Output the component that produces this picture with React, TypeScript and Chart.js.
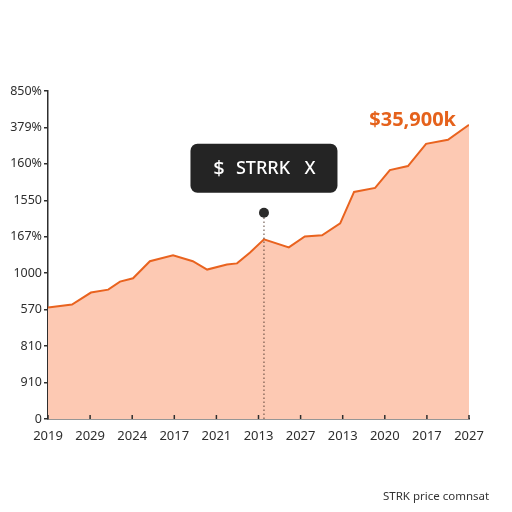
import React, { useEffect, useRef } from "react";
import { Chart, registerables } from "chart.js";

Chart.register(...registerables);

const xLabels = ["2019", "2029", "2024", "2017", "2021", "2013", "2027", "2013", "2020", "2017", "2027"];
const yLabels = ["0", "910", "810", "570", "1000", "167%", "1550", "160%", "379%", "850%"];
const priceX = [0, 0.57, 1.02, 1.43, 1.71, 2.02, 2.42, 2.97, 3.44, 3.78, 4.25, 4.49, 4.8, 5.13, 5.72, 6.1, 6.51, 6.94, 7.27, 7.77, 8.12, 8.55, 8.98, 9.5, 10];
const priceY = [3.06, 3.14, 3.47, 3.55, 3.77, 3.86, 4.33, 4.49, 4.33, 4.1, 4.24, 4.27, 4.57, 4.93, 4.71, 5.01, 5.04, 5.37, 6.23, 6.34, 6.83, 6.94, 7.55, 7.66, 8.07];
const markerX = 5.13;
const markerY = 5.66;
const tooltipParts = ["$", "STRRK", "X"];
const lastLabel = "$35,900k";
const caption = "STRK price comnsat";

const FONT = '"Noto Sans", "DejaVu Sans", sans-serif';
const AXIS = "#2e2e2e";

const overlay = {
  id: "overlay",
  afterDraw(chart: any) {
    const ctx = chart.ctx;
    const xs = chart.scales.x;
    const ys = chart.scales.y;
    const area = chart.chartArea;
    ctx.save();
    // inward x ticks
    ctx.strokeStyle = AXIS;
    ctx.lineWidth = 1.5;
    xLabels.forEach((_, i) => {
      const px = xs.getPixelForValue(i);
      ctx.beginPath();
      ctx.moveTo(px, area.bottom);
      ctx.lineTo(px, area.bottom - 4);
      ctx.stroke();
    });
    // tooltip box
    const mx = xs.getPixelForValue(markerX);
    const my = ys.getPixelForValue(markerY);
    const bw = 147;
    const bh = 49;
    const bx = mx - bw / 2;
    const by = my - 20 - bh;
    ctx.fillStyle = "#242424";
    ctx.beginPath();
    (ctx as any).roundRect(bx, by, bw, bh, 7);
    ctx.fill();
    ctx.fillStyle = "#ffffff";
    ctx.textAlign = "center";
    ctx.textBaseline = "middle";
    const cy = by + bh / 2 + 1;
    ctx.font = `500 20px ${FONT}`;
    ctx.fillText(tooltipParts[0], mx - 45, cy);
    ctx.font = `500 18px ${FONT}`;
    ctx.fillText(tooltipParts[1], mx - 1, cy);
    ctx.fillText(tooltipParts[2], mx + 46, cy);
    // last value label
    const lx = xs.getPixelForValue(priceX[priceX.length - 1]);
    const ly = ys.getPixelForValue(priceY[priceY.length - 1]);
    ctx.fillStyle = "#e5621c";
    ctx.font = `bold 20px ${FONT}`;
    ctx.textAlign = "right";
    ctx.fillText(lastLabel, lx - 13, ly - 5);
    // caption
    ctx.fillStyle = "#333333";
    ctx.font = `11.5px ${FONT}`;
    ctx.textAlign = "left";
    ctx.fillText(caption, 383, 497);
    ctx.restore();
  },
};

export default function App() {
  const ref = useRef<HTMLCanvasElement | null>(null);
  useEffect(() => {
    if (!ref.current) return;
    const chart = new Chart(ref.current, {
      type: "line",
      data: {
        datasets: [
          {
            data: [
              { x: markerX, y: 0 },
              { x: markerX, y: markerY },
            ],
            borderColor: "#5a4035",
            borderWidth: 1,
            borderDash: [1.5, 2.5],
            pointRadius: [0, 5],
            pointBackgroundColor: "#2b2b2b",
            pointBorderWidth: 0,
            fill: false,
            order: 0,
          },
          {
            data: priceX.map((x, i) => ({ x, y: priceY[i] })),
            borderColor: "#e9631f",
            borderWidth: 2,
            backgroundColor: "#fdc9b3",
            fill: "origin",
            pointRadius: 0,
            tension: 0,
            order: 1,
          },
        ],
      },
      options: {
        animation: false,
        responsive: false,
        devicePixelRatio: 1,
        layout: { padding: { top: 91, right: 43, left: 0, bottom: 0 } },
        plugins: { legend: { display: false }, tooltip: { enabled: false } },
        scales: {
          x: {
            type: "linear",
            min: 0,
            max: 10,
            afterBuildTicks: (s: any) => {
              s.ticks = xLabels.map((_, i) => ({ value: i }));
            },
            afterFit: (s: any) => {
              s.height = 93;
            },
            ticks: {
              callback: (v: any) => xLabels[v],
              font: { family: FONT, size: 13 },
              color: AXIS,
              padding: 1,
              maxRotation: 0,
              autoSkip: false,
            },
            grid: { display: false },
            border: { color: AXIS, width: 1.5 },
          },
          y: {
            type: "linear",
            min: 0,
            max: 9,
            afterBuildTicks: (s: any) => {
              s.ticks = yLabels.map((_, i) => ({ value: i }));
            },
            afterFit: (s: any) => {
              s.width = 48;
            },
            ticks: {
              callback: (v: any) => yLabels[v],
              font: { family: FONT, size: 12.5 },
              color: AXIS,
              padding: 2,
              autoSkip: false,
            },
            grid: { drawOnChartArea: false, tickLength: 4, color: AXIS, lineWidth: 1.5 },
            border: { color: AXIS, width: 1.5 },
          },
        },
      },
      plugins: [overlay],
    });
    return () => chart.destroy();
  }, []);
  return (
    <div style={{ position: "absolute", left: 0, top: 0, width: 512, height: 512, background: "#fff" }}>
      <canvas ref={ref} width={512} height={512} style={{ width: 512, height: 512, display: "block" }} />
    </div>
  );
}
